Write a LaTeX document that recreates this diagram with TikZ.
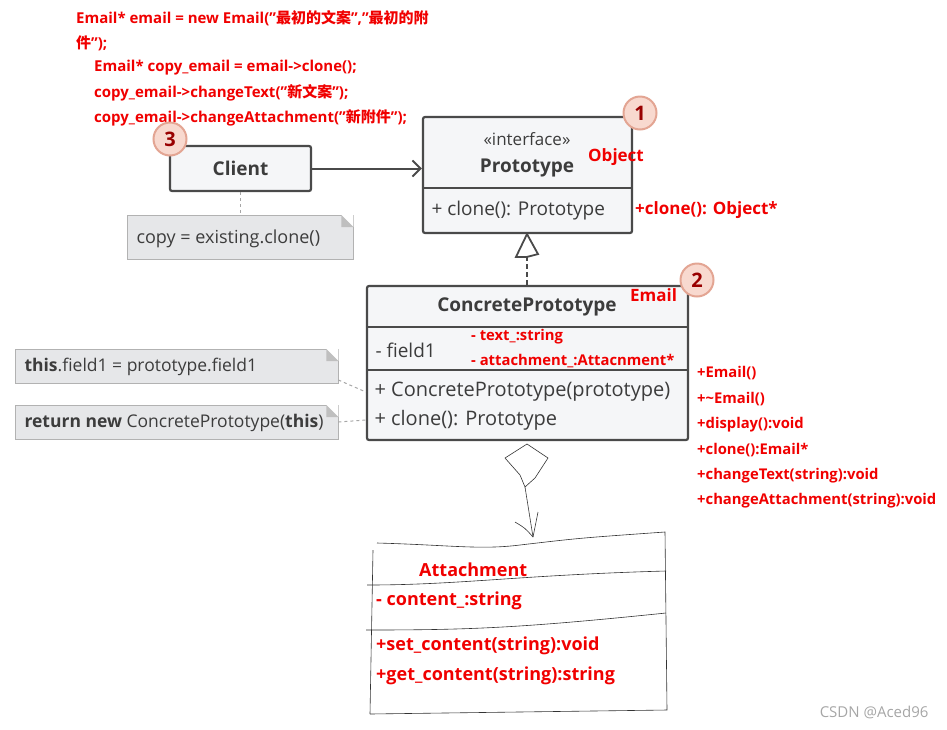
\documentclass[tikz,border=0pt]{standalone}
\usepackage{fontspec}
\setmainfont{Open Sans}
\newfontfamily\cjk{Noto Sans CJK SC}
\usetikzlibrary{arrows.meta}
\definecolor{boxfill}{HTML}{F5F6F8}
\definecolor{boxline}{HTML}{4A4A4A}
\definecolor{notefill}{HTML}{E6E7E9}
\definecolor{txt}{HTML}{3C3C3C}
\definecolor{redtxt}{HTML}{F00000}
\definecolor{badgefill}{HTML}{F8D9CF}
\definecolor{badgeline}{HTML}{E3A593}
\newcommand{\zh}[1]{{\cjk\bfseries #1}}
\newcommand{\qq}{\symbol{34}}
\begin{document}
\begin{tikzpicture}[x=1pt,y=-1pt,
  cls/.style={draw=boxline,line width=2.2pt,fill=boxfill,rounded corners=2pt,inner sep=0pt},
  note/.style={fill=notefill,draw=gray!60,inner sep=0pt,anchor=north west},
  badge/.style={circle,draw=badgeline,line width=2pt,fill=badgefill,minimum size=33pt,inner sep=0pt,font=\fontsize{20}{20}\selectfont\bfseries,text=red!60!black},
  red/.style={text=redtxt,font=\bfseries\fontsize{17}{17}\selectfont,anchor=west,inner sep=0pt},
  small/.style={red,font=\bfseries\fontsize{14.8}{15}\selectfont},
  code/.style={red,font=\bfseries\fontsize{15}{15}\selectfont},
  hand/.style={black!80,line width=0.6pt}]
\useasboundingbox (0,0) rectangle (947,729);
% code
\node[code] (c1) at (76,18) {Email* email = new Email(\qq\zh{最初的文案}\qq,\qq\zh{最初的附}};
\node[code] (c2) at (76,43) {\zh{件}\qq);};
\node[code] (c3) at (94,68) {Email* copy\_email = email->clone();};
\node[code] (c4) at (94,93) {copy\_email->changeText(\qq\zh{新文案}\qq);};
\node[code] (c5) at (94,118) {copy\_email->changeAttachment(\qq\zh{新附件}\qq);};
% classes
\node[cls,minimum width=209pt,minimum height=116pt] (proto) at (527.5,175) {};
\draw[boxline,line width=2.2pt] (proto.west |- 0,188) -- (proto.east |- 0,188);
\node[text=txt,font=\fontsize{17}{17}\selectfont] (pi) at (527,139) {«interface»};
\node[text=txt,font=\fontsize{19}{19}\selectfont\bfseries] (pn) at (527,168) {Prototype};
\node[text=txt,font=\fontsize{19}{19}\selectfont,anchor=west] (pm) at (428,211) {+ clone(): Prototype};
\node[cls,minimum width=141pt,minimum height=45pt,text=txt,font=\fontsize{19}{19}\selectfont\bfseries] (client) at (240.5,168.5) {Client};
\node[cls,minimum width=321pt,minimum height=154pt] (cp) at (527.5,363) {};
\draw[boxline,line width=2.2pt] (cp.west |- 0,327) -- (cp.east |- 0,327);
\draw[boxline,line width=2.2pt] (cp.west |- 0,370) -- (cp.east |- 0,370);
\node[text=txt,font=\fontsize{19}{19}\selectfont\bfseries] (cpn) at (527,307) {ConcretePrototype};
\node[text=txt,font=\fontsize{19}{19}\selectfont,anchor=west] (cpf) at (372,350) {- field1};
\node[text=txt,font=\fontsize{20}{20}\selectfont,anchor=west] (cpm1) at (371,392) {+ ConcretePrototype(prototype)};
\node[text=txt,font=\fontsize{20}{20}\selectfont,anchor=west] (cpm2) at (371,420) {+ clone(): Prototype};
% notes
\node[note,minimum width=226pt,minimum height=44pt] (n1) at (127,215) {};
\node[note,minimum width=323pt,minimum height=34pt] (n2) at (15,349) {};
\node[note,minimum width=323pt,minimum height=34pt] (n3) at (15,405) {};
\foreach \n in {n1,n2,n3}
  \fill[white] ([xshift=-12pt]\n.north east) -- (\n.north east) -- ([yshift=-12pt]\n.north east) -- cycle;
\foreach \n in {n1,n2,n3}
  \fill[gray!50] ([xshift=-12pt]\n.north east) -- ([xshift=-12pt,yshift=-12pt]\n.north east) -- ([yshift=-12pt]\n.north east) -- cycle;
\node[text=txt,font=\fontsize{18}{18}\selectfont,anchor=west] (t1) at (133,239) {copy = existing.clone()};
\node[text=txt,font=\fontsize{17.5}{17}\selectfont,anchor=west] (t2) at (21,367) {\textbf{this}.field1 = prototype.field1};
\node[text=txt,font=\fontsize{17.5}{17}\selectfont,anchor=west] (t3) at (21,423) {\textbf{return new} ConcretePrototype(\textbf{this})};
% connectors
\draw[boxline,line width=2pt,-{Straight Barb[length=8pt,width=16pt]}] (client.east) -- (proto.west |- client.east);
\draw[gray!70,line width=1.5pt,dashed] (client.south) -- (n1.north -| client.south);
\draw[gray!70,line width=1pt,dashed] (n2.east |- 0,380) -- (cp.west |- cpm1);
\draw[gray!70,line width=1pt,dashed] (n3.east |- 0,422) -- (cp.west |- cpm2);
\draw[boxline,line width=2pt,dash pattern=on 5pt off 3pt] (cp.north -| pn) -- ++(0,-28) coordinate (tri);
\draw[boxline,line width=1.8pt,fill=white] (tri) -- ++(-11,0) -- (proto.south -| tri) -- ++(11,20) -- cycle;
% badges
\node[badge] (b1) at (640,113) {1};
\node[badge] (b2) at (697,280) {2};
\node[badge] (b3) at (170,139) {3};
% red annotations
\node[red] (o1) at (588,157) {Object};
\node[red] (o2) at (635,210) {+clone(): Object*};
\node[red] (e1) at (630,295) {Email};
\node[small] (f1) at (471,337) {- text\_:string};
\node[small] (f2) at (471,361) {- attachment\_:Attacnment*};
\foreach \t [count=\i] in {+Email(),+\textasciitilde Email(),+display():void,+clone():Email*,+changeText(string):void,+changeAttachment(string):void}
  \node[small] (m\i) at (697,348+25.5*\i) {\t};
% hand drawn attachment
\draw[hand] (527,444) -- (505,458) -- (520,475) -- (525,487) -- (535,478) -- (548,458) -- cycle;
\draw[hand] (525,487) -- (533,537) coordinate (ah);
\draw[hand] (ah) .. controls (525,528) .. (515,522);
\draw[hand] (ah) -- (538,512);
\draw[hand] (377,543) .. controls (450,545) and (480,550) .. (520,545) .. controls (580,538) .. (665,532) -- (667,710) -- (370,714);
\draw[hand] (373,550) -- (370,714);
\draw[hand] (367,585) .. controls (460,585) and (520,575) .. (666,571);
\draw[hand] (366,630) .. controls (470,630) and (520,628) .. (666,613);
\node[red,font=\bfseries\fontsize{18}{18}\selectfont] (a0) at (419,570) {Attachment};
\node[red,font=\bfseries\fontsize{18}{18}\selectfont] (a1) at (376,601) {- content\_:string};
\node[red,font=\bfseries\fontsize{18}{18}\selectfont] (a2) at (376,646) {+set\_content(string):void};
\node[red,font=\bfseries\fontsize{18}{18}\selectfont] (a3) at (376,676) {+get\_content(string):string};
\node[text=gray!70,font=\fontsize{15}{15}\selectfont,anchor=east] (wm) at (932,712) {CSDN @Aced96};
\end{tikzpicture}
\end{document}
